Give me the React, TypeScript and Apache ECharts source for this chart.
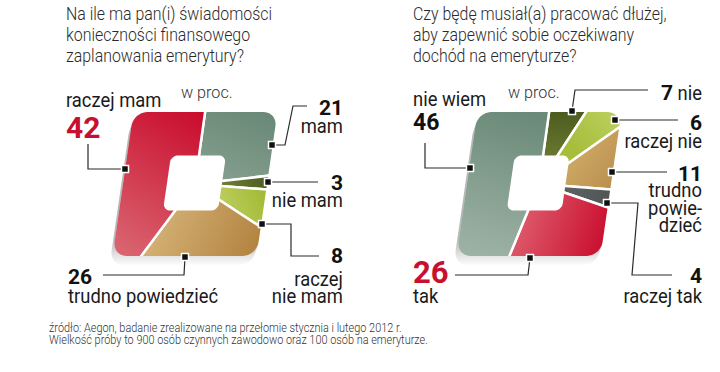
import React, { useEffect, useRef } from "react";
import * as echarts from "echarts";

// ---------- data ----------
const leftCategories = ["mam", "nie mam", "raczej nie mam", "trudno powiedzieć", "raczej mam"];
const leftValues = [21, 3, 8, 26, 42];
const rightCategories = ["nie", "raczej nie", "trudno powiedzieć", "raczej tak", "tak", "nie wiem"];
const rightValues = [7, 6, 11, 4, 26, 46];
const leftTitle = ["Na ile ma pan(i) świadomości", "konieczności finansowego", "zaplanowania emerytury?"];
const rightTitle = ["Czy będę musiał(a) pracować dłużej,", "aby zapewnić sobie oczekiwany", "dochód na emeryturze?"];
const unitLabel = "w proc.";
const sourceLines = [
  "źródło: Aegon, badanie zrealizowane na przełomie stycznia i lutego 2012 r.",
  "Wielkość próby to 900 osób czynnych zawodowo oraz 100 osób na emeryturze.",
];

// ---------- style / layout ----------
const FONT = "Roboto, 'Liberation Sans', sans-serif";
const RED = "#c8102e";
const H = 72, R = 14, HH = 27.5, HR = 7, K = 0.145;
const LC: [number, number] = [195, 184];
const RC: [number, number] = [539, 184];

const lg = (x: number, y: number, x2: number, y2: number, c1: string, c2: string) =>
  new echarts.graphic.LinearGradient(x, y, x2, y2, [
    { offset: 0, color: c1 },
    { offset: 1, color: c2 },
  ], true);

const leftColors = [
  lg(265, 115, 225, 215, "#6a8976", "#8ea696"),
  lg(265, 180, 225, 190, "#4f5e22", "#6f7d37"),
  lg(265, 200, 225, 215, "#a3bb38", "#bccd5c"),
  lg(150, 210, 255, 258, "#d6b57a", "#b3823f"),
  lg(205, 112, 120, 250, "#c90a2c", "#d9646f"),
];
const rightColors = [
  lg(560, 112, 560, 160, "#4c5c1f", "#6b7a30"),
  lg(575, 150, 620, 115, "#a6be3c", "#bccf5e"),
  lg(570, 160, 615, 195, "#cda865", "#b88b4b"),
  lg(570, 195, 610, 205, "#5c6060", "#505454"),
  lg(510, 215, 610, 250, "#df6371", "#c8082a"),
  lg(520, 112, 480, 255, "#6b8a78", "#9db2a5"),
];

function shapePts(cx: number, cy: number, h: number, r: number, k: number) {
  const pts: number[][] = [];
  const c = h - r;
  const corners = [[c, -c, -90], [c, c, 0], [-c, c, 90], [-c, -c, 180]];
  for (const [ox, oy, a0] of corners) {
    for (let i = 0; i <= 10; i++) {
      const a = ((a0 + (i * 90) / 10) * Math.PI) / 180;
      const x = ox + r * Math.cos(a);
      const y = oy + r * Math.sin(a);
      pts.push([cx + x - k * y, cy + y]);
    }
  }
  return pts;
}

function crescent(pts: number[][], dx: number, dy: number) {
  const n = pts.length;
  const flag = pts.map((p, i) => {
    const q = pts[(i + 1) % n];
    const ex = q[0] - p[0], ey = q[1] - p[1];
    return ey * dx - ex * dy > 0;
  });
  let start = 0;
  for (let i = 0; i < n; i++) {
    if (flag[i] && !flag[(i - 1 + n) % n]) { start = i; break; }
  }
  const chain: number[][] = [];
  let i = start;
  chain.push(pts[i]);
  while (flag[i % n]) {
    chain.push(pts[(i + 1) % n]);
    i++;
    if (i - start > n) break;
  }
  const back = chain.slice().reverse().map((p) => [p[0] + dx, p[1] + dy]);
  return chain.concat(back);
}

const toPath = (pts: number[][]) =>
  "M" + pts.map((p) => p[0].toFixed(2) + " " + p[1].toFixed(2)).join(" L") + " Z";

function pieSeries(center: [number, number], cats: string[], vals: number[], colors: any[]) {
  return {
    type: "pie",
    center,
    radius: [0, 118],
    startAngle: 82,
    clockwise: true,
    silent: true,
    z: 2,
    label: { show: false },
    labelLine: { show: false },
    emphasis: { disabled: true },
    itemStyle: { borderColor: "#ffffff", borderWidth: 2.5 },
    data: cats.map((name, i) => ({ name, value: vals[i], itemStyle: { color: colors[i] } })),
  };
}

const txt = (text: string, x: number, y: number, size: number, o: any = {}) => ({
  type: "text",
  x,
  y,
  z: 30,
  silent: true,
  scaleX: o.sx || 1,
  style: {
    text,
    fontSize: size,
    fontFamily: FONT,
    fontWeight: o.bold ? "bold" : o.weight || "normal",
    fill: o.color || "#1a1a1a",
    textAlign: o.align || "left",
    textVerticalAlign: "middle",
    lineHeight: o.lh || 15,
  },
});

const leader = (pts: number[][]) => [
  {
    type: "polyline",
    z: 20,
    silent: true,
    shape: { points: pts },
    style: { stroke: "#2a2a2a", lineWidth: 1.2, fill: null },
  },
  {
    type: "rect",
    z: 21,
    silent: true,
    shape: { x: pts[0][0] - 3.5, y: pts[0][1] - 3.5, width: 7, height: 7 },
    style: { fill: "#111", stroke: "#fff", lineWidth: 1.5 },
  },
];

// annotation layouts (index into data arrays)
const leftAnn = [
  { i: 4, lab: [66, 100, "left"], val: [66, 127.5, "left"], vs: 30, red: true, line: [[125, 169], [88, 169], [88, 144]] },
  { i: 0, lab: [343, 126, "right"], val: [343, 107.6, "right"], vs: 21, line: [[272, 145], [285, 145], [293, 106], [307, 106]] },
  { i: 1, lab: [343, 200, "right"], val: [343, 182.6, "right"], vs: 21, line: [[268, 182], [318, 182]] },
  { i: 2, lab: [343, 287.5, "right"], val: [343, 256, "right"], vs: 21, wrap: "raczej\nnie mam", line: [[262, 224], [291, 224], [291, 256], [319, 256]] },
  { i: 3, lab: [68, 296.5, "left"], val: [68, 277, "left"], vs: 21, line: [[185, 257], [184, 275], [103, 275]] },
];
const rightAnn = [
  { i: 5, lab: [413, 99, "left"], val: [413, 122, "left"], vs: 23, line: [[470, 168], [425, 168], [425, 143]] },
  { i: 0, lab: [702, 93, "right"], val: [673, 92.6, "right"], vs: 21, line: [[572, 111], [575, 90], [648, 90]] },
  { i: 1, lab: [702, 141.3, "right"], val: [702, 122.6, "right"], vs: 21, line: [[615, 120], [678, 120]] },
  { i: 2, lab: [702, 208, "right"], val: [702, 174.3, "right"], vs: 21, wrap: "trudno\npowie-\ndzieć", line: [[612, 172], [667, 172]] },
  { i: 3, lab: [702, 296.5, "right"], val: [702, 276, "right"], vs: 21, line: [[607, 203], [638, 203], [632, 275], [672, 275]] },
  { i: 4, lab: [413, 296.5, "left"], val: [413, 272, "left"], vs: 31, red: true, line: [[530, 258], [528, 275], [455, 275]] },
];

function annotations(ann: any[], cats: string[], vals: number[]) {
  const out: any[] = [];
  for (const a of ann) {
    out.push(...leader(a.line));
    out.push(txt(a.wrap || cats[a.i], a.lab[0], a.lab[1], 20, { align: a.lab[2], lh: a.wrap ? 17.5 : 15, sx: 0.92 }));
    out.push(txt(String(vals[a.i]), a.val[0], a.val[1], a.vs, { align: a.val[2], bold: true, color: a.red ? RED : "#111", lh: 15 }));
  }
  return out;
}

export default function App() {
  const ref = useRef<HTMLDivElement>(null);
  useEffect(() => {
    document.body.style.margin = "0";
    const el = ref.current!;
    const outerL = shapePts(LC[0], LC[1], H, R, K);
    const outerR = shapePts(RC[0], RC[1], H, R, K);
    const holeL = shapePts(LC[0] - 0.5, LC[1] - 1, HH, HR, K);
    const holeR = shapePts(RC[0] - 0.8, RC[1] - 1, HH, HR, K);
    const maskD =
      "M0 0 L720 0 L720 372 L0 372 Z " +
      toPath(outerL.slice().reverse()) + " " + toPath(outerR.slice().reverse());
    echarts.graphic.registerShape("ringMask", echarts.graphic.extendPath(maskD, {}) as any);

    const shadowFill = (cy: number) =>
      new echarts.graphic.LinearGradient(0, cy + H - 16, 0, cy + H + 10, [
        { offset: 0, color: "rgba(0,0,0,0.28)" },
        { offset: 0.55, color: "rgba(0,0,0,0.12)" },
        { offset: 1, color: "rgba(0,0,0,0)" },
      ], true);

    const titleEl = (t: string, x: number, i: number) =>
      txt(t, x, 14 + i * 20.8, 18.5, { sx: 0.86, color: "#2a2a2a", weight: 300, lh: 20 });

    const graphics: any[] = [
      { type: "ringMask", x: 0, y: 0, z: 10, silent: true, style: { fill: "#ffffff" } },
      { type: "polygon", z: 12, silent: true, shape: { points: crescent(outerL, -3, 9) }, style: { fill: shadowFill(LC[1]) } },
      { type: "polygon", z: 12, silent: true, shape: { points: crescent(outerR, -3, 9) }, style: { fill: shadowFill(RC[1]) } },
      { type: "polygon", z: 11, silent: true, shape: { points: holeL }, style: { fill: "#ffffff" } },
      { type: "polygon", z: 11, silent: true, shape: { points: holeR }, style: { fill: "#ffffff" } },
      ...leftTitle.map((t, i) => titleEl(t, 66, i)),
      ...rightTitle.map((t, i) => titleEl(t, 413, i)),
      txt(unitLabel, 181, 92.5, 17, { color: "#333", weight: 300, sx: 0.95 }),
      txt(unitLabel, 508, 92.5, 17, { color: "#333", weight: 300, sx: 0.95 }),
      ...annotations(leftAnn, leftCategories, leftValues),
      ...annotations(rightAnn, rightCategories, rightValues),
      ...sourceLines.map((t, i) =>
        txt(t, 49, 328 + i * 11.5, 13, { color: "#333", weight: 300, sx: 0.84, lh: 11 })
      ),
    ];

    const chart = echarts.init(el, null, { renderer: "svg" });
    chart.setOption({
      animation: false,
      backgroundColor: "#ffffff",
      series: [
        pieSeries(LC, leftCategories, leftValues, leftColors),
        pieSeries(RC, rightCategories, rightValues, rightColors),
      ],
      graphic: { elements: graphics },
    });
    return () => chart.dispose();
  }, []);
  return <div ref={ref} style={{ width: 720, height: 372 }} />;
}
